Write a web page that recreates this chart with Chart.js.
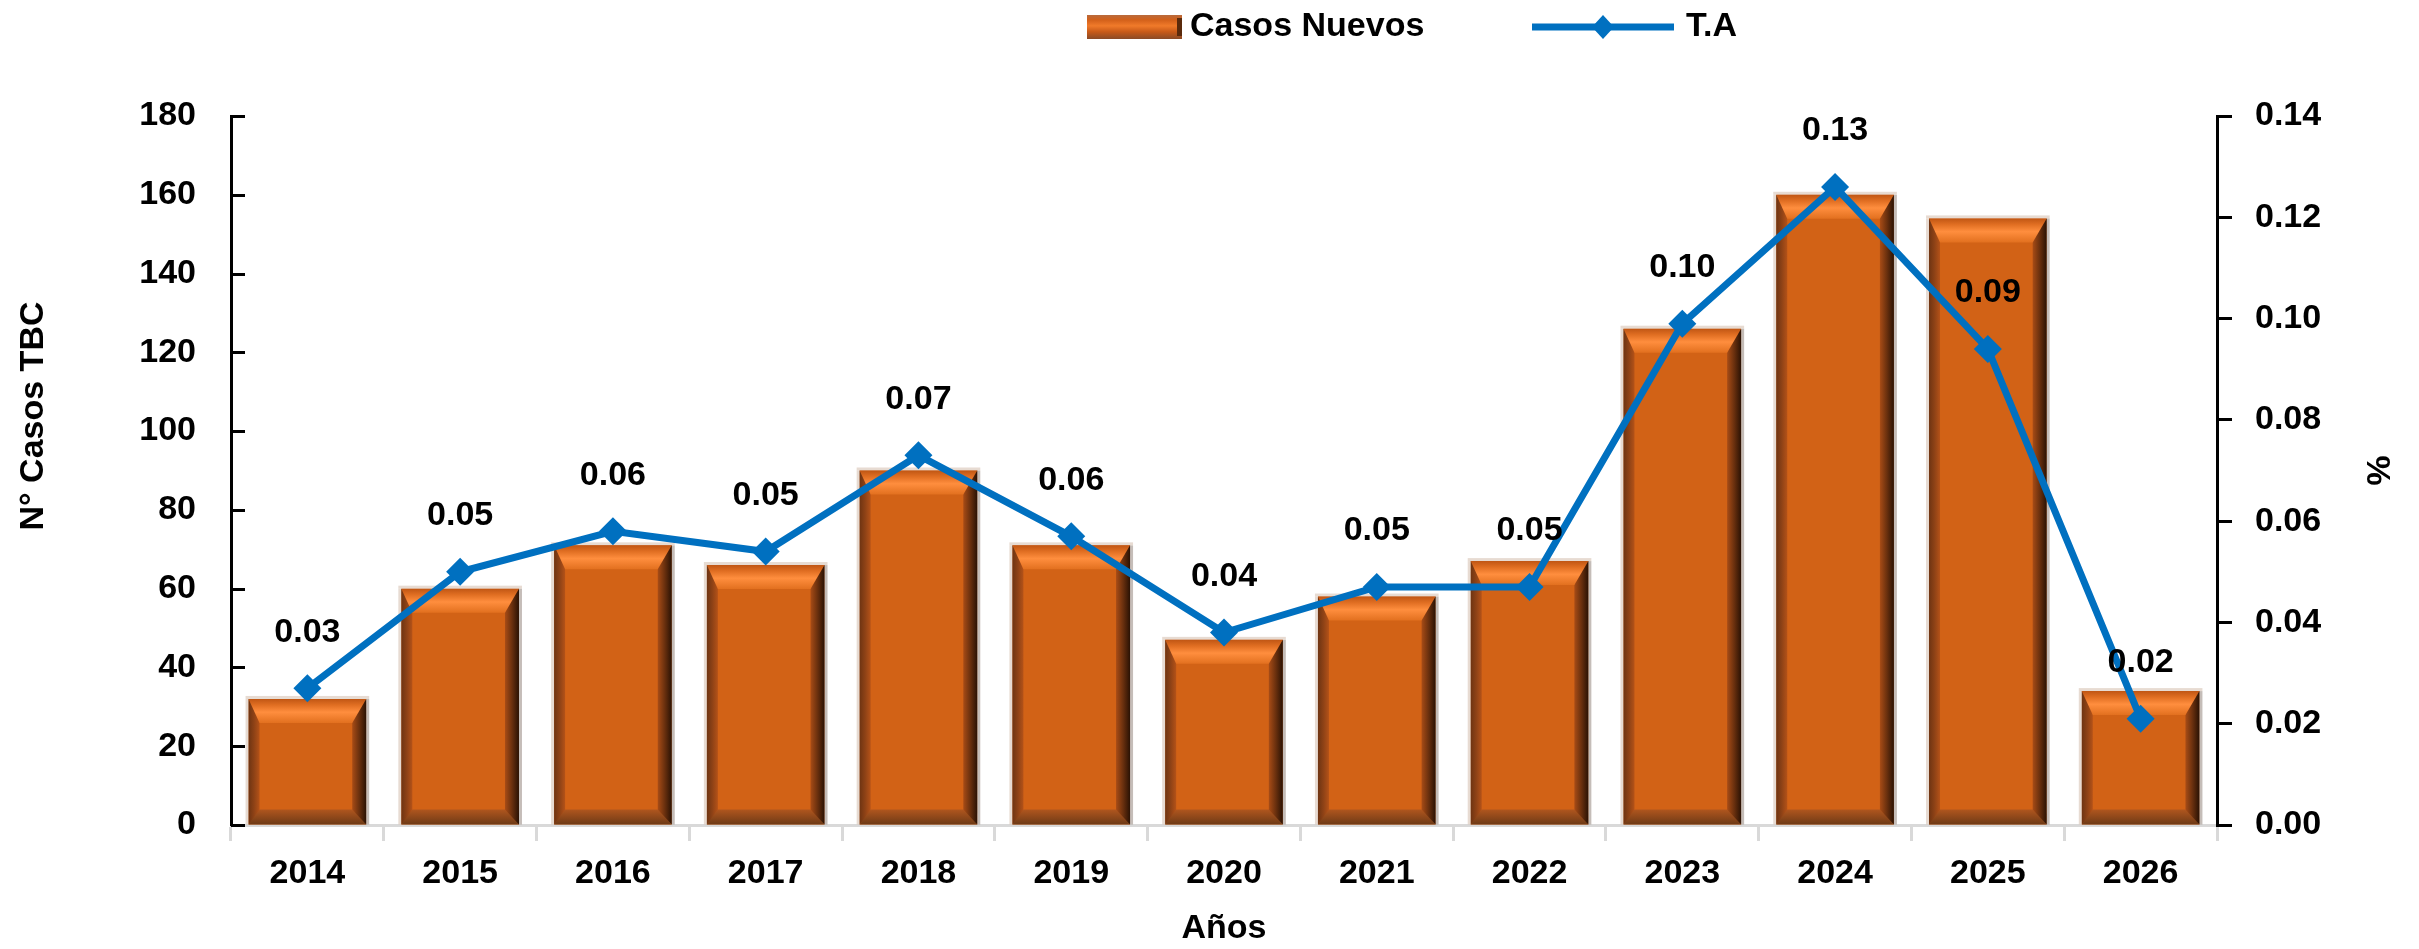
<!DOCTYPE html>
<html><head><meta charset="utf-8">
<script src="https://cdn.jsdelivr.net/npm/chart.js@4/dist/chart.umd.min.js"></script>
<style>html,body{margin:0;padding:0;background:#fff;overflow:hidden}canvas{display:block}</style>
</head><body>
<canvas id="c" width="2419" height="949"></canvas>
<script>
// ---- data ----
const years = ['2014','2015','2016','2017','2018','2019','2020','2021','2022','2023','2024','2025','2026'];
const casosNuevos = [32, 60, 71, 66, 90, 71, 47, 58, 67, 126, 160, 154, 34];
const tasa = [0.027, 0.050, 0.058, 0.054, 0.073, 0.057, 0.038, 0.047, 0.047, 0.099, 0.126, 0.094, 0.021];
const seriesNames = ['Casos Nuevos', 'T.A'];
const leftAxis = { min: 0, max: 180, step: 20 };
const rightAxis = { min: 0, max: 0.14, step: 0.02 };
const axisTitles = { left: 'N° Casos TBC', right: '%', bottom: 'Años' };

const FONT = 'Liberation Sans';
const font = { family: FONT, size: 34, weight: 'bold' };
const fontStr = 'bold 34px "' + FONT + '"';
const BLUE = '#0070C0';

function drawDiamond(ctx, x, y, r) {
  ctx.beginPath();
  ctx.moveTo(x, y - r * 1.1); ctx.lineTo(x + r, y); ctx.lineTo(x, y + r * 1.1); ctx.lineTo(x - r, y);
  ctx.closePath(); ctx.fill();
}

function bevelBar(ctx, L, R, T, B) {
  const w = R - L, h = B - T;
  if (h < 4) return;
  const b = Math.min(11, h / 3);
  const br = Math.min(14, h / 3);
  // outer shadow
  ctx.fillStyle = 'rgba(150,135,125,0.55)';
  ctx.fillRect(R, T, 3, h);
  ctx.fillStyle = 'rgba(215,195,180,0.6)';
  ctx.fillRect(L - 3, T - 3, w + 6, 3);
  ctx.fillRect(L - 3, T, 3, h);
  // left bevel
  let g = ctx.createLinearGradient(L, 0, L + b, 0);
  g.addColorStop(0, '#6E3412'); g.addColorStop(0.5, '#8E4216'); g.addColorStop(1, '#B45218');
  ctx.fillStyle = g;
  ctx.beginPath(); ctx.moveTo(L, T); ctx.lineTo(L + b, T + b); ctx.lineTo(L + b, B - b); ctx.lineTo(L, B); ctx.closePath(); ctx.fill();
  // right bevel
  g = ctx.createLinearGradient(R - br, 0, R, 0);
  g.addColorStop(0, '#A84C16'); g.addColorStop(0.5, '#6A300E'); g.addColorStop(1, '#2A1204');
  ctx.fillStyle = g;
  ctx.beginPath(); ctx.moveTo(R, T); ctx.lineTo(R - br, T + b); ctx.lineTo(R - br, B - b); ctx.lineTo(R, B); ctx.closePath(); ctx.fill();
  // top bevel
  const tb = Math.min(24, h / 3);
  g = ctx.createLinearGradient(0, T, 0, T + tb);
  g.addColorStop(0, '#C05614'); g.addColorStop(0.25, '#E06E22'); g.addColorStop(0.55, '#FF8E3E'); g.addColorStop(1, '#E2701F');
  ctx.fillStyle = g;
  ctx.beginPath(); ctx.moveTo(L, T); ctx.lineTo(R, T); ctx.lineTo(R - br, T + tb); ctx.lineTo(L + b, T + tb); ctx.closePath(); ctx.fill();
  // bottom bevel
  g = ctx.createLinearGradient(0, B - b - 4, 0, B);
  g.addColorStop(0, '#B0561E'); g.addColorStop(1, '#6E3A16');
  ctx.fillStyle = g;
  ctx.beginPath(); ctx.moveTo(L, B); ctx.lineTo(R, B); ctx.lineTo(R - br, B - b - 4); ctx.lineTo(L + b, B - b - 4); ctx.closePath(); ctx.fill();
}

const bevelPlugin = {
  id: 'bevel',
  afterDatasetDraw(chart, args) {
    if (args.index !== 0) return;
    const ctx = chart.ctx;
    ctx.save();
    args.meta.data.forEach(el => {
      const p = el.getProps(['x', 'y', 'base', 'width'], true);
      bevelBar(ctx, p.x - p.width / 2, p.x + p.width / 2, p.y, p.base);
    });
    ctx.restore();
  }
};

const labelsPlugin = {
  id: 'valueLabels',
  afterDatasetsDraw(chart) {
    const ctx = chart.ctx;
    const meta = chart.getDatasetMeta(1);
    ctx.save();
    ctx.font = fontStr; ctx.fillStyle = '#000'; ctx.textAlign = 'center'; ctx.textBaseline = 'middle';
    meta.data.forEach((pt, i) => {
      ctx.fillText(tasa[i].toFixed(2), pt.x, pt.y - 56);
    });
    ctx.restore();
  }
};

const decorPlugin = {
  id: 'decor',
  afterDraw(chart) {
    const ctx = chart.ctx;
    const ys = chart.scales.y;
    const area = chart.chartArea;
    ctx.save();
    // inward tick marks on left axis
    ctx.strokeStyle = '#000'; ctx.lineWidth = 3;
    ys.ticks.forEach((t, i) => {
      const y = Math.round(ys.getPixelForTick(i)) + 0.5;
      ctx.beginPath(); ctx.moveTo(area.left, y); ctx.lineTo(area.left + 14, y); ctx.stroke();
    });
    // left axis title
    ctx.font = fontStr; ctx.fillStyle = '#000'; ctx.textAlign = 'center'; ctx.textBaseline = 'middle';
    ctx.save(); ctx.translate(34, 416); ctx.rotate(-Math.PI / 2); ctx.fillText(axisTitles.left, 0, 0); ctx.restore();
    // legend
    const ly = 27;
    const bx0 = 1087, bx1 = 1182, by0 = 15, by1 = 39;
    let g = ctx.createLinearGradient(0, by0, 0, by1);
    g.addColorStop(0, '#B86A3C'); g.addColorStop(0.2, '#D2601A'); g.addColorStop(0.45, '#F07A2A'); g.addColorStop(0.7, '#C85A18'); g.addColorStop(1, '#8A4A26');
    ctx.fillStyle = g; ctx.fillRect(bx0, by0, bx1 - bx0, by1 - by0);
    ctx.fillStyle = '#5A2A0C'; ctx.fillRect(bx1 - 5, by0 + 3, 5, by1 - by0 - 6);
    ctx.fillStyle = '#000'; ctx.textAlign = 'left';
    ctx.fillText(seriesNames[0], 1190, ly);
    ctx.strokeStyle = BLUE; ctx.lineWidth = 7;
    ctx.beginPath(); ctx.moveTo(1532, ly); ctx.lineTo(1674, ly); ctx.stroke();
    ctx.fillStyle = BLUE; drawDiamond(ctx, 1603, ly, 11);
    ctx.fillStyle = '#000';
    ctx.fillText(seriesNames[1], 1686, ly);
    ctx.restore();
  }
};

new Chart(document.getElementById('c').getContext('2d'), {
  data: {
    labels: years,
    datasets: [
      { type: 'bar', label: seriesNames[0], data: casosNuevos, backgroundColor: '#D26216', borderWidth: 0,
        yAxisID: 'y', order: 2, categoryPercentage: 0.77, barPercentage: 1.0 },
      { type: 'line', label: seriesNames[1], data: tasa, borderColor: BLUE, backgroundColor: BLUE, borderWidth: 7,
        pointStyle: 'rectRot', pointRadius: 14, pointBorderWidth: 0, pointBackgroundColor: BLUE,
        yAxisID: 'y1', order: 1, tension: 0, fill: false }
    ]
  },
  options: {
    responsive: false, animation: false, devicePixelRatio: 1,
    layout: { padding: { top: 116, left: 0, right: 0, bottom: 0 } },
    plugins: { legend: { display: false }, tooltip: { enabled: false } },
    scales: {
      x: {
        type: 'category', offset: true,
        grid: { display: true, drawOnChartArea: false, offset: true, color: '#D9D9D9', lineWidth: 3, tickLength: 16 },
        border: { color: '#D9D9D9', width: 3 },
        ticks: { color: '#000', font: font, padding: 12, maxRotation: 0 },
        title: { display: true, text: axisTitles.bottom, color: '#000', font: font, padding: 0 },
        afterFit(s) { s.height = 124; }
      },
      y: {
        position: 'left', min: leftAxis.min, max: leftAxis.max,
        ticks: { stepSize: leftAxis.step, color: '#000', font: font, padding: 35 },
        grid: { display: true, drawOnChartArea: false, drawTicks: false },
        border: { color: '#000', width: 3 },
        afterFit(s) { s.width = 231; }
      },
      y1: {
        position: 'right', min: rightAxis.min, max: rightAxis.max,
        ticks: { stepSize: rightAxis.step, color: '#000', font: font, padding: 23, callback: v => v.toFixed(2) },
        grid: { display: true, drawOnChartArea: false, tickLength: 15, color: '#000', lineWidth: 3 },
        border: { color: '#000', width: 3 },
        title: { display: true, text: axisTitles.right, color: '#000', font: font, padding: { top: 22, bottom: 0 } },
        afterFit(s) { s.width = 202; }
      }
    }
  },
  plugins: [bevelPlugin, labelsPlugin, decorPlugin]
});
</script>
</body></html>
